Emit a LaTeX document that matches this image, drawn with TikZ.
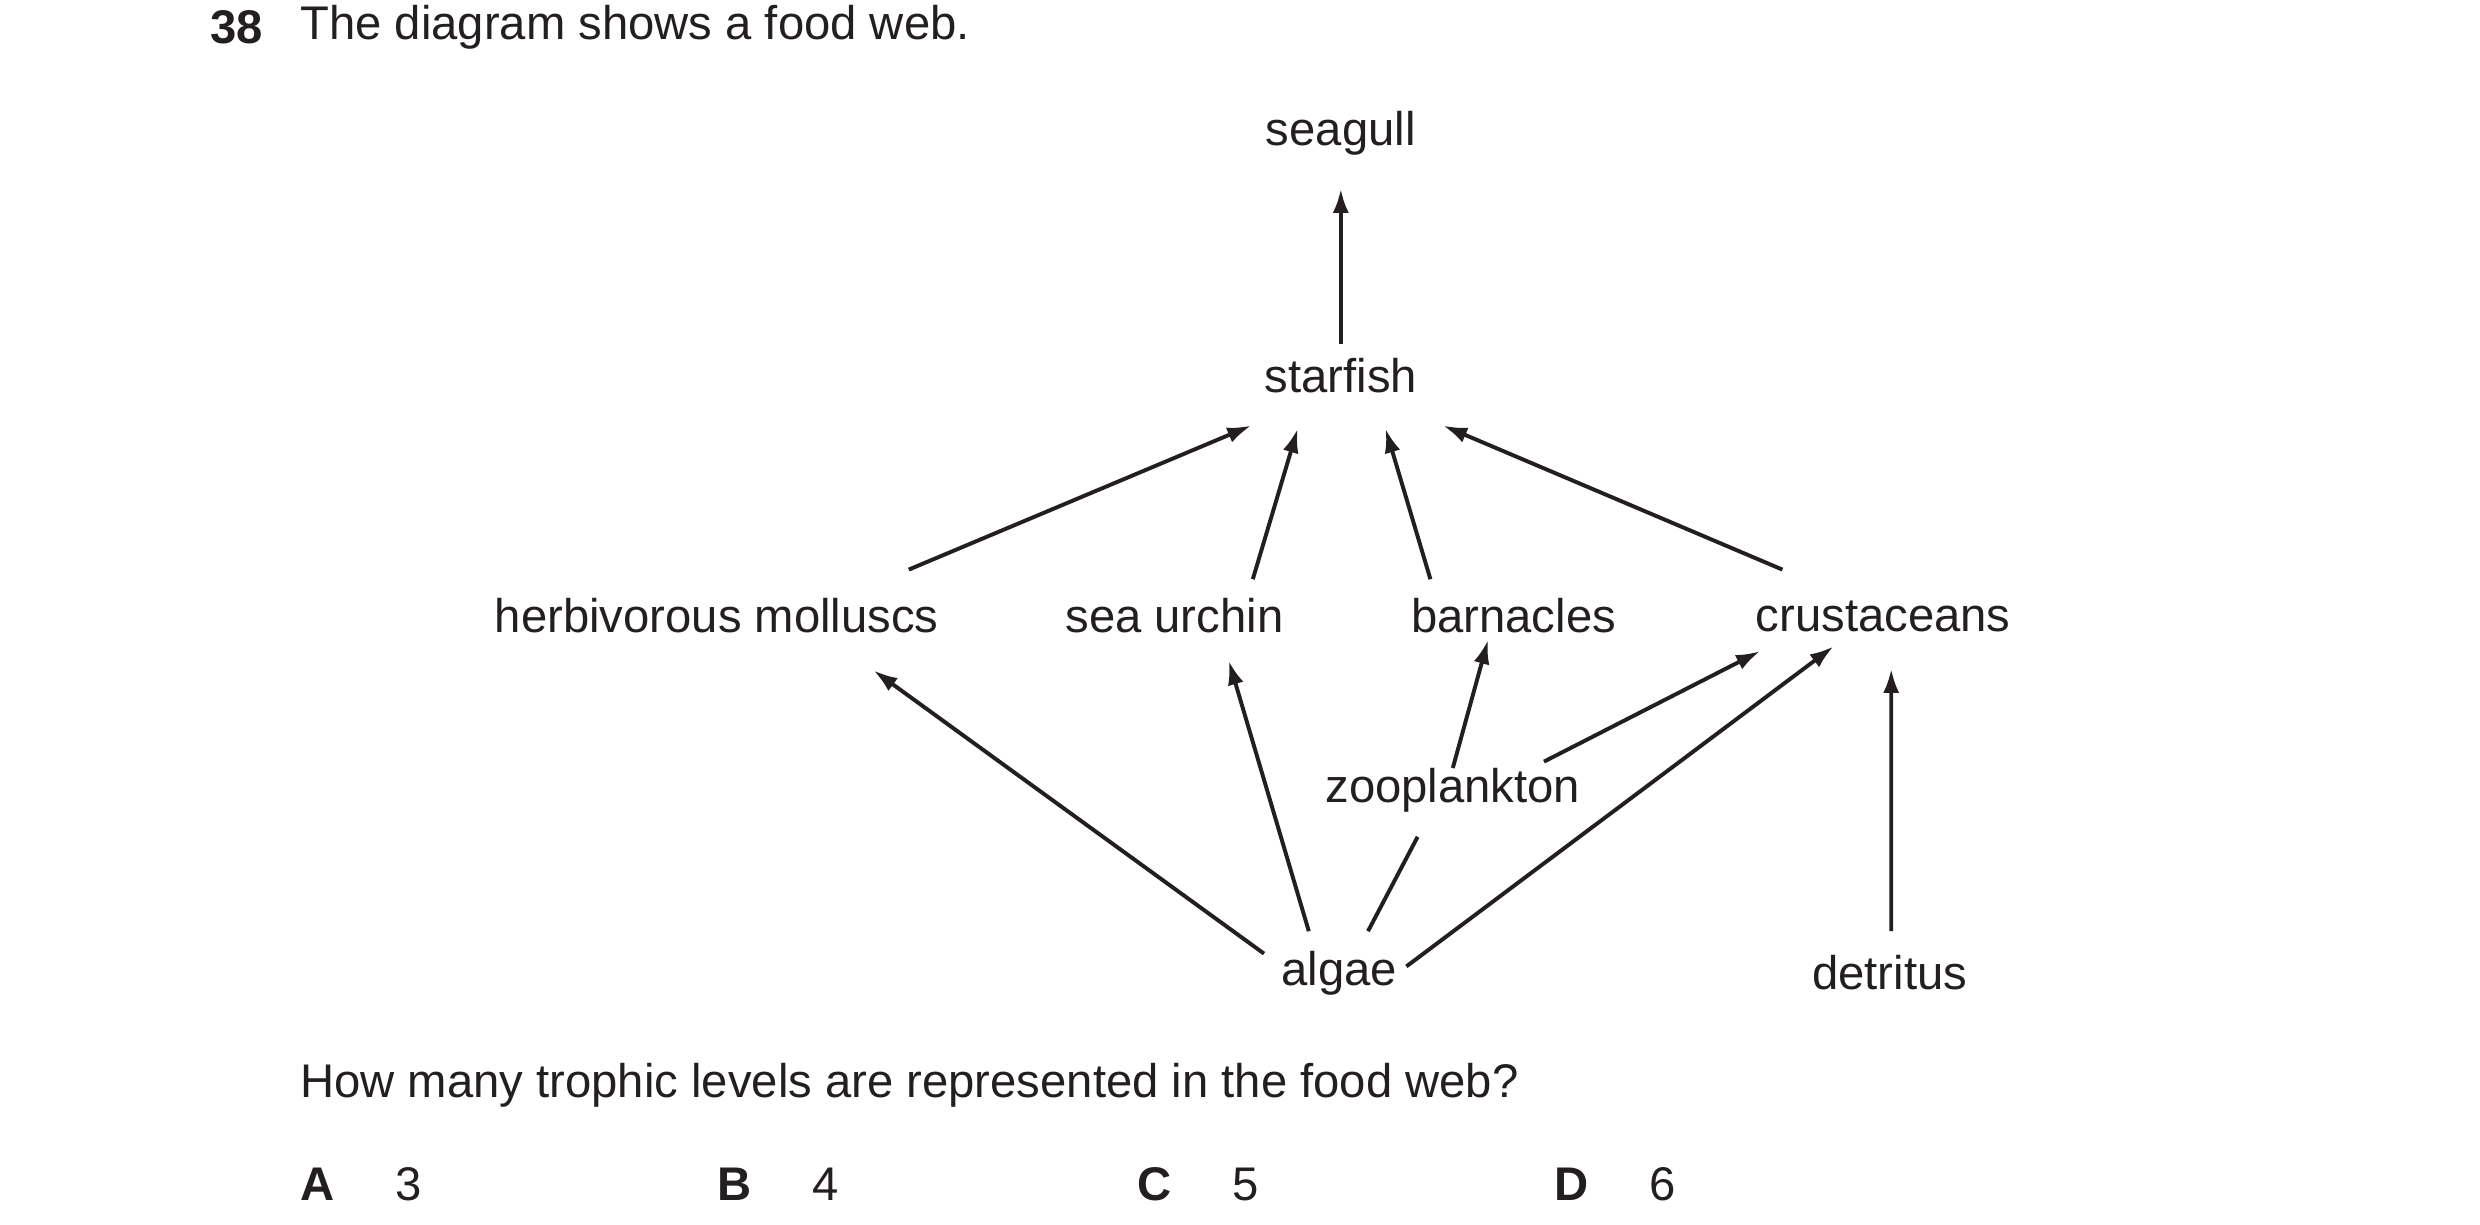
\documentclass[tikz,border=0pt]{standalone}
\usepackage{fontspec}
\setmainfont{Liberation Sans}
\usetikzlibrary{arrows.meta,calc}
\definecolor{ink}{HTML}{231F20}
\tikzset{%
  organism/.style = {inner sep=0pt, text=ink, font=\fontsize{8.4}{10}\selectfont},%
  feeds/.style    = {draw=ink, line width=0.7pt, -{Latex[length=1.5mm,width=1mm]}},%
  plain/.style    = {draw=ink, line width=0.7pt}%
}
\begin{document}
\begin{tikzpicture}[every node/.style={organism}]
	\useasboundingbox (0,0) rectangle (15.5,-7.656);
	% question
	\node[anchor=west, font=\fontsize{8.4}{10}\selectfont\bfseries] (num) at (1.31,-0.17) {38};
	\node[anchor=west] (stem) at (1.87,-0.17) {The diagram shows a food web.};
	% organisms
	\node (seagull) at (8.38,-0.83) {seagull};
	\node (starfish) at (8.38,-2.35) {starfish};
	\node (herb) at (4.48,-3.85) {herbivorous molluscs};
	\node (urchin) at (7.34,-3.85) {sea urchin};
	\node (barnacles) at (9.46,-3.85) {barnacles};
	\node (crust) at (11.77,-3.85) {crustaceans};
	\node (zoo) at (9.08,-4.94) {zooplankton};
	\node (algae) at (8.37,-6.08) {algae};
	\node (detritus) at (11.81,-6.08) {detritus};
	% links
	\draw[feeds] ($(starfish)+(0,0.20)$) -- ($(seagull)+(0,-0.35)$);
	\draw[feeds] ($(herb)+(1.20,0.29)$) -- ($(starfish)+(-0.56,-0.31)$);
	\draw[feeds] ($(urchin)+(0.49,0.23)$) -- ($(starfish)+(-0.27,-0.33)$);
	\draw[feeds] ($(barnacles)+(-0.52,0.23)$) -- ($(starfish)+(0.28,-0.33)$);
	\draw[feeds] ($(crust)+(-0.63,0.29)$) -- ($(starfish)+(0.64,-0.31)$);
	\draw[feeds] ($(algae)+(-0.47,0.12)$) -- ($(herb)+(0.98,-0.34)$);
	\draw[feeds] ($(algae)+(-0.19,0.26)$) -- ($(urchin)+(0.34,-0.28)$);
	\draw[plain] ($(algae)+(0.18,0.26)$) -- ($(zoo)+(-0.22,-0.29)$);
	\draw[feeds] ($(zoo)+(0,0.14)$) -- ($(barnacles)+(-0.16,-0.15)$);
	\draw[feeds] ($(zoo)+(0.57,0.18)$) -- ($(crust)+(-0.77,-0.22)$);
	\draw[feeds] ($(algae)+(0.42,0.04)$) -- ($(crust)+(-0.31,-0.19)$);
	\draw[feeds] ($(detritus)+(0.01,0.26)$) -- ($(crust)+(0.05,-0.33)$);
	% answers
	\node[anchor=west] (ask) at (1.87,-6.78) {How many trophic levels are represented in the food web?};
	\foreach \key/\val/\x in {A/3/1.87, B/4/4.48, C/5/7.10, D/6/9.71}
		\node[anchor=west] (opt\key) at (\x,-7.40) {\textbf{\key}\hspace{0.38cm}\val};
\end{tikzpicture}
\end{document}
